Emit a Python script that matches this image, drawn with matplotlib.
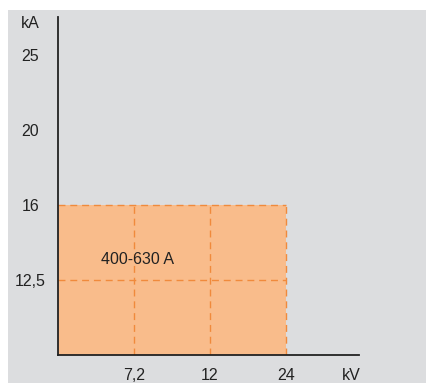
import matplotlib
matplotlib.use("Agg")
import matplotlib.pyplot as plt
from matplotlib.patches import Rectangle

plt.rcParams['font.family'] = ['Liberation Sans', 'DejaVu Sans']

# Rated voltages (kV) and short-time currents (kA), placed on an even grid
voltage_labels = ["7,2", "12", "24"]
current_labels = ["12,5", "16", "20", "25"]
range_label = "400-630 A"
# Covered region: up to 24 kV and up to 16 kA
max_voltage = "24"
max_current = "16"

bg = "#dcdddf"
fill = "#f9bc8b"
dash = "#f08a3c"

W, H = 427, 383
fig = plt.figure(figsize=(W / 100, H / 100), dpi=100)
fig.patch.set_facecolor("white")
fig.add_artist(Rectangle((8 / W, 0), 1 - 8 / W, (H - 10) / H,
                         transform=fig.transFigure, facecolor=bg,
                         edgecolor="none", zorder=0))

ax = fig.add_axes([58 / W, (H - 355) / H, (359 - 58) / W, (355 - 17) / H])
ax.set_facecolor("none")

xpos = {lab: i + 1 for i, lab in enumerate(voltage_labels)}
ypos = {lab: i + 1 for i, lab in enumerate(current_labels)}
xr = xpos[max_voltage]
yr = ypos[max_current]

ax.set_xlim(0, 3.96)
ax.set_ylim(0, 4.5)

ax.add_patch(Rectangle((0, 0), xr, yr, facecolor=fill, edgecolor="none", zorder=1))

ls = (0, (5, 3.5))
for lab in current_labels:
    y = ypos[lab]
    if y <= yr:
        ax.plot([0, xr], [y, y], color=dash, lw=1.0, linestyle=ls, zorder=2)
for lab in voltage_labels:
    x = xpos[lab]
    if x <= xr:
        ax.plot([x, x], [0, yr], color=dash, lw=1.0, linestyle=ls, zorder=2)

ax.text(1.04, 1.27, range_label, ha="center", va="center", fontsize=11.5,
        color="#222222", zorder=3)

for s in ["top", "right"]:
    ax.spines[s].set_visible(False)
for s in ["left", "bottom"]:
    ax.spines[s].set_color("#222222")
    ax.spines[s].set_linewidth(1.3)
    ax.spines[s].set_zorder(4)

ax.set_xticks([xpos[l] for l in voltage_labels])
ax.set_xticklabels(voltage_labels)
ax.set_yticks([ypos[l] for l in current_labels])
ax.set_yticklabels(current_labels)
ax.tick_params(length=0, labelsize=11.5, colors="#222222")
ax.tick_params(axis="x", pad=9)
for t in ax.get_yticklabels():
    t.set_horizontalalignment("center")
ax.tick_params(axis="y", pad=20)

fig.text(30 / W, 1 - 23 / H, "kA", ha="center", va="center", fontsize=11.5, color="#222222")
fig.text(351 / W, 1 - 375 / H, "kV", ha="center", va="center", fontsize=11.5, color="#222222")

fig.savefig("out.png", dpi=100, facecolor=fig.get_facecolor())
